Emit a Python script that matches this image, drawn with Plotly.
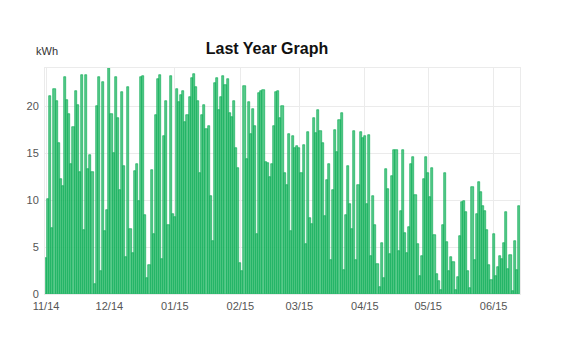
import plotly.graph_objects as go
import pandas as pd

start_date = "2014-11-01"
kwh = [
    3.8, 10.1, 21.1, 7.0, 21.9, 20.6, 16.1, 12.3, 11.5, 23.1,
    20.7, 19.2, 13.9, 17.8, 21.6, 20.2, 13.0, 23.4, 6.8, 23.4,
    13.3, 14.8, 13.0, 1.1, 20.0, 23.1, 2.4, 22.6, 6.7, 9.0,
    24.1, 19.2, 15.0, 23.1,
    18.8, 11.1, 21.5, 13.6, 3.9, 22.1, 6.9, 4.4, 13.1, 13.9,
    9.9, 23.1, 23.3, 8.4, 1.7, 3.1, 13.2, 6.4, 19.1,
    22.9, 23.4, 3.75, 16.8, 20.6, 7.4, 23.2, 8.5, 8.2, 21.9,
    20.5, 21.2, 21.6, 18.3, 19.1,
    21.0, 23.0, 23.5, 22.1, 20.6, 12.9, 19.1, 20.2, 17.6, 17.9,
    10.4, 5.7, 22.5, 23.0, 19.6, 21.0, 23.2, 22.3, 22.9,
    19.3, 18.9, 20.6, 15.6, 13.4, 3.3, 2.4, 22.2, 14.4, 20.5,
    17.1, 19.7, 17.9, 6.4, 21.4, 21.7, 21.8, 14.1, 14.0, 12.5,
    13.9, 17.9, 21.5, 21.7, 18.8, 20.1, 12.9, 11.6, 17.1,
    6.7, 16.8, 15.6, 15.8, 15.6, 12.9, 15.9, 5.3, 17.3, 8.1,
    7.5, 18.75, 17.2, 19.6, 17.4, 16.1, 8.3, 12.2, 13.9, 3.6,
    11.1, 17.5, 15.1, 18.6, 19.3, 2.6, 8.4, 13.7,
    9.6, 6.9, 17.4, 3.6, 11.6, 17.3, 16.6, 16.9, 9.6, 17.0,
    4.1, 10.4, 7.4, 3.2, 0.7, 5.4, 1.7, 13.3, 11.25, 4.3,
    12.6, 15.4, 15.4, 4.6, 8.9, 15.4, 6.5, 4.4, 7.1, 13.9,
    14.6, 10.6, 5.3, 1.9, 4.0, 12.3, 14.6, 12.9,
    10.3, 13.4, 6.3, 2.1, 1.4, 0.4, 7.4, 12.9, 5.5, 2.5,
    3.9, 3.4, 0.4, 1.8, 6.2, 9.8, 9.9, 8.75, 2.5, 0.6,
    11.4, 3.6, 8.5, 11.9, 10.9, 9.4, 8.8, 6.8, 3.1, 1.5,
    6.4, 1.9, 2.9, 4.1, 3.7, 5.4, 8.7, 2.7, 4.2, 0.3,
    5.6, 2.6, 9.4,
]
dates = pd.date_range(start_date, periods=len(kwh), freq="D")
y_ticks = [0, 5, 10, 15, 20]

fig = go.Figure(go.Bar(
    x=dates, y=kwh,
    marker=dict(color="rgba(70,195,125,0.9)", line=dict(color="#00a84f", width=0.6)),
))

grid = "#ebebeb"
fig.update_layout(
    width=573, height=358,
    margin=dict(l=37, r=61, t=60, b=72, autoexpand=False),
    paper_bgcolor="white", plot_bgcolor="white",
    bargap=0,
    showlegend=False,
    font=dict(family="Liberation Sans, Arial, sans-serif", color="#555"),
    title=dict(text="<b>Last Year Graph</b>", x=0.452, xanchor="center", y=0.888, yanchor="middle",
               font=dict(size=16, color="#111")),
    annotations=[dict(text="kWh", xref="paper", yref="paper", x=0.032, y=1.075,
                      xanchor="right", yanchor="middle", showarrow=False,
                      font=dict(size=11, color="#333"))],
)
fig.update_xaxes(
    type="date",
    range=[dates[0] - pd.Timedelta(hours=12), dates[-1] + pd.Timedelta(hours=12)],
    tick0="2014-11-01", dtick="M1", tickformat="%m/%y",
    showgrid=True, gridcolor=grid, gridwidth=1,
    showline=True, linecolor=grid, mirror=True,
    ticks="", tickfont=dict(size=11, color="#555"), ticklabelstandoff=2,
)
fig.update_yaxes(
    range=[0, 24.1], tickvals=y_ticks,
    showgrid=True, gridcolor=grid,
    showline=True, linecolor=grid, mirror=True, zeroline=False,
    ticks="", tickfont=dict(size=11, color="#555"), ticklabelstandoff=3,
)
fig.write_html("out.html")
